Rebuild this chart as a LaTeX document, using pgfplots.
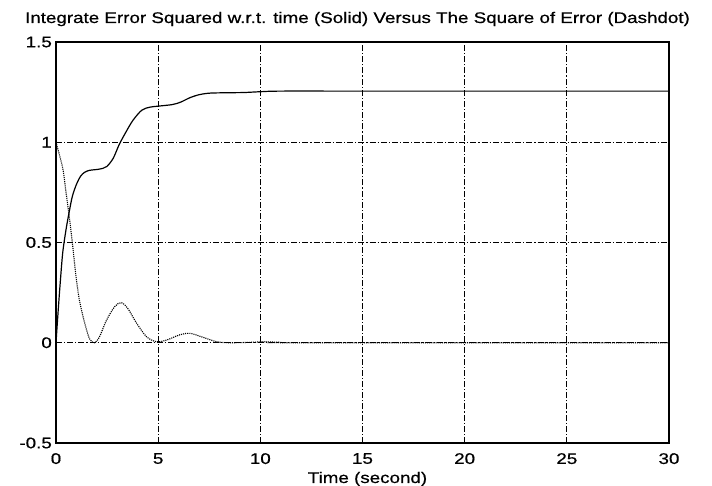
\documentclass[border=0pt]{standalone}
\usepackage{pgfplots}
\pgfplotsset{compat=1.18}
\usepackage{fontspec}
\setmainfont{Liberation Sans}[FakeStretch=1.22, FakeBold=0.6]
\begin{document}
\begin{tikzpicture}
\begin{axis}[
  scale only axis,
  width=613pt, height=401pt,
  xmin=0, xmax=30, ymin=-0.5, ymax=1.5,
  xtick={0,5,...,30}, ytick={-0.5,0,0.5,1,1.5},
  yticklabels={-0.5,0,0.5,1,1.5},
  grid=major,
  major grid style={black, line width=0.7pt, dash pattern=on 6pt off 2pt on 1.2pt off 2pt},
  axis line style={black, line width=1.2pt},
  tick style={draw=none},
  /pgf/number format/assume math mode=true,
  ticklabel style={font=\fontsize{15.4}{15.4}\selectfont, inner sep=0pt},
  xticklabel style={anchor=north, yshift=-10pt},
  yticklabel style={anchor=east, xshift=-4pt},
  xlabel={Time (second)},
  xlabel style={font=\fontsize{15.4}{15.4}\selectfont, at={(axis description cs:0.5,0)}, anchor=base, inner sep=0pt, yshift=-40pt, xshift=5pt},
  title={Integrate Error Squared w.r.t. time (Solid) Versus The Square of Error (Dashdot)},
  title style={font=\fontsize{15.4}{15.4}\selectfont, at={(axis description cs:0.5,1)}, anchor=base, inner sep=0pt, yshift=13pt, xshift=-5pt},
]
\addplot[black, line width=1.2pt, smooth] coordinates {
(0,0) (0.1,0.15) (0.2,0.29) (0.33,0.45) (0.5,0.57) (0.66,0.66) (0.8,0.73)
(1.0,0.79) (1.2,0.83) (1.4,0.85) (1.64,0.86) (2.0,0.864) (2.3,0.87)
(2.5,0.88) (2.8,0.92) (3.1,0.99) (3.44,1.054) (3.77,1.11) (4.2,1.16)
(4.6,1.175) (5.0,1.18) (5.7,1.188) (6.1,1.20) (6.55,1.222) (7.0,1.237)
(7.54,1.245) (8.5,1.247) (9.2,1.248) (10,1.252) (11,1.255) (15,1.255) (30,1.255)
};
\addplot[black, line width=1.1pt, densely dotted, smooth] coordinates {
(0,1.0) (0.33,0.87) (0.49,0.75) (0.66,0.62) (0.82,0.48) (0.98,0.33)
(1.15,0.21) (1.4,0.10) (1.64,0.02) (1.89,0.0) (2.13,0.03) (2.46,0.11)
(2.87,0.18) (3.2,0.20) (3.52,0.17) (3.93,0.10) (4.43,0.03) (4.92,0.005)
(5.4,0.013) (6.07,0.04) (6.56,0.047) (7.2,0.027) (7.87,0.005) (8.5,0.0)
(9.5,0.002) (10.2,0.005) (11,0.002) (12,0.0) (30,0.0)
};
\end{axis}
\pgfresetboundingbox
\path (current axis.south west) ++(-56pt,-43pt) rectangle ++(712pt,486pt);
\end{tikzpicture}
\end{document}
